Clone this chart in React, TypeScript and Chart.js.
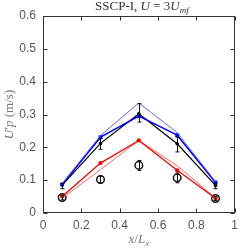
import React, { useEffect, useRef } from "react";
import { Chart, registerables } from "chart.js";

Chart.register(...registerables);

const xPositions = [0.1, 0.3, 0.5, 0.7, 0.9];
const blueThin = [0.09, 0.236, 0.335, 0.245, 0.096];
const blueThick = [0.087, 0.231, 0.295, 0.237, 0.093];
const blackSim = [0.085, 0.212, 0.302, 0.211, 0.084];
const blackSimLow = [0.074, 0.194, 0.277, 0.186, 0.074];
const blackSimHigh = [0.09, 0.226, 0.333, 0.231, 0.089];
const redThick = [0.05, 0.152, 0.221, 0.13, 0.045];
const redThin = [0.045, 0.132, 0.221, 0.144, 0.046];
const expVals = [0.047, 0.102, 0.145, 0.107, 0.044];
const expLow = [0.04, 0.092, 0.13, 0.092, 0.038];
const expHigh = [0.054, 0.112, 0.16, 0.122, 0.05];
const xTicks = [0, 0.2, 0.4, 0.6, 0.8, 1];
const yTicks = [0, 0.1, 0.2, 0.3, 0.4, 0.5, 0.6];

type Part = { t: string; it?: boolean; sub?: boolean };

const SERIF = "'Liberation Serif', 'DejaVu Serif', serif";

function drawRich(ctx: CanvasRenderingContext2D, parts: Part[], size: number) {
  const fontFor = (p: Part) =>
    `${p.it ? "italic " : ""}${p.sub ? Math.round(size * 0.72) : size}px ${SERIF}`;
  let total = 0;
  const widths = parts.map((p) => {
    ctx.font = fontFor(p);
    const w = ctx.measureText(p.t).width;
    total += w;
    return w;
  });
  let x = -total / 2;
  ctx.textBaseline = "middle";
  ctx.textAlign = "left";
  parts.forEach((p, i) => {
    ctx.font = fontFor(p);
    ctx.fillText(p.t, x, p.sub ? size * 0.25 : 0);
    x += widths[i];
  });
}

const titleParts: Part[] = [
  { t: "SSCP-I, " },
  { t: "U", it: true },
  { t: " = 3" },
  { t: "U", it: true },
  { t: "mf", it: true, sub: true },
];
const xLabelParts: Part[] = [
  { t: "x", it: true },
  { t: "/" },
  { t: "L", it: true },
  { t: "x", it: true, sub: true },
];
const yLabelParts: Part[] = [
  { t: "U", it: true },
  { t: "′" },
  { t: "p", it: true },
  { t: " (m/s)" },
];

const errorBars = [
  { low: blackSimLow, high: blackSimHigh, color: "#111" },
  { low: expLow, high: expHigh, color: "#111" },
];

const decorPlugin = {
  id: "decor",
  afterDatasetsDraw(chart: any) {
    const ctx: CanvasRenderingContext2D = chart.ctx;
    const xs = chart.scales.x;
    const ys = chart.scales.y;
    const a = chart.chartArea;
    ctx.save();
    errorBars.forEach((eb) => {
      ctx.strokeStyle = eb.color;
      ctx.lineWidth = 1;
      xPositions.forEach((xv, i) => {
        const px = Math.round(xs.getPixelForValue(xv)) + 0.5;
        const y1 = ys.getPixelForValue(eb.low[i]);
        const y2 = ys.getPixelForValue(eb.high[i]);
        ctx.beginPath();
        ctx.moveTo(px, y1);
        ctx.lineTo(px, y2);
        ctx.moveTo(px - 2, y1);
        ctx.lineTo(px + 2, y1);
        ctx.moveTo(px - 2, y2);
        ctx.lineTo(px + 2, y2);
        ctx.stroke();
      });
    });
    ctx.strokeStyle = "#333";
    ctx.lineWidth = 1;
    const L = Math.round(a.left) + 0.5;
    const R = Math.round(a.right) - 0.5;
    const T = Math.round(a.top) + 0.5;
    const B = Math.round(a.bottom) - 0.5;
    ctx.strokeRect(L, T, R - L, B - T);
    ctx.beginPath();
    xTicks.forEach((v) => {
      const px = Math.round(xs.getPixelForValue(v)) + 0.5;
      ctx.moveTo(px, B);
      ctx.lineTo(px, B - 4);
      ctx.moveTo(px, T);
      ctx.lineTo(px, T + 4);
    });
    yTicks.forEach((v) => {
      const py = Math.round(ys.getPixelForValue(v)) + 0.5;
      ctx.moveTo(L, py);
      ctx.lineTo(L + 4, py);
      ctx.moveTo(R, py);
      ctx.lineTo(R - 4, py);
    });
    ctx.stroke();
    ctx.fillStyle = "#333";
    const cx = (a.left + a.right) / 2;
    ctx.save();
    ctx.translate(cx + 3, 7);
    drawRich(ctx, titleParts, 13);
    ctx.restore();
    ctx.fillStyle = "#777";
    ctx.save();
    ctx.translate(cx, 240);
    drawRich(ctx, xLabelParts, 13);
    ctx.restore();
    ctx.save();
    ctx.translate(10, (a.top + a.bottom) / 2);
    ctx.rotate(-Math.PI / 2);
    drawRich(ctx, yLabelParts, 13);
    ctx.restore();
    ctx.restore();
  },
};

const pts = (vals: number[]) => xPositions.map((x, i) => ({ x, y: vals[i] }));
const tickFont = { family: "'Liberation Sans', Arial, sans-serif", size: 12 };

export default function App() {
  const ref = useRef<HTMLCanvasElement | null>(null);
  useEffect(() => {
    if (!ref.current) return;
    const chart = new Chart(ref.current, {
      type: "line",
      data: {
        datasets: [
          {
            data: pts(blueThin),
            borderColor: "rgb(100,100,255)",
            borderWidth: 1,
            pointRadius: 0,
          },
          {
            data: pts(blueThick),
            borderColor: "rgb(0,0,255)",
            backgroundColor: "rgb(0,0,255)",
            borderWidth: 1.5,
            pointRadius: 1.6,
            pointStyle: "rect",
          },
          {
            data: pts(blackSim),
            borderColor: "#000",
            backgroundColor: "#000",
            borderWidth: 1.2,
            pointRadius: 1.2,
          },
          {
            data: pts(redThick),
            borderColor: "rgb(255,0,0)",
            backgroundColor: "rgb(255,0,0)",
            borderWidth: 1.3,
            pointRadius: 1.5,
          },
          {
            data: pts(redThin),
            borderColor: "rgb(255,100,100)",
            borderWidth: 1,
            pointRadius: 0,
          },
          {
            data: pts(expVals),
            showLine: false,
            borderColor: "#111",
            backgroundColor: "rgba(0,0,0,0)",
            borderWidth: 1.5,
            pointRadius: 3.8,
          },
        ],
      },
      options: {
        animation: false,
        responsive: false,
        events: [],
        layout: { padding: { top: 16, right: 4, left: 0, bottom: 0 } },
        plugins: { legend: { display: false }, tooltip: { enabled: false } },
        scales: {
          x: {
            type: "linear",
            min: 0,
            max: 1,
            afterFit: (s: any) => {
              s.height = 36;
            },
            afterBuildTicks: (s: any) => {
              s.ticks = xTicks.map((v) => ({ value: v }));
            },
            grid: { display: false, drawTicks: false },
            border: { display: false },
            ticks: {
              padding: 5,
              color: "#555",
              font: tickFont,
              callback: (v: any) => String(v),
              maxRotation: 0,
            },
          },
          y: {
            type: "linear",
            min: 0,
            max: 0.6,
            afterFit: (s: any) => {
              s.width = 43;
            },
            afterBuildTicks: (s: any) => {
              s.ticks = yTicks.map((v) => ({ value: v }));
            },
            grid: { display: false, drawTicks: false },
            border: { display: false },
            ticks: {
              padding: 7,
              color: "#555",
              font: tickFont,
              callback: (v: any) => String(v),
            },
          },
        },
      },
      plugins: [decorPlugin],
    });
    return () => chart.destroy();
  }, []);
  return (
    <div style={{ position: "fixed", left: 0, top: 0, width: 243, height: 249 }}>
      <canvas ref={ref} width={243} height={249} style={{ width: 243, height: 249 }} />
    </div>
  );
}
